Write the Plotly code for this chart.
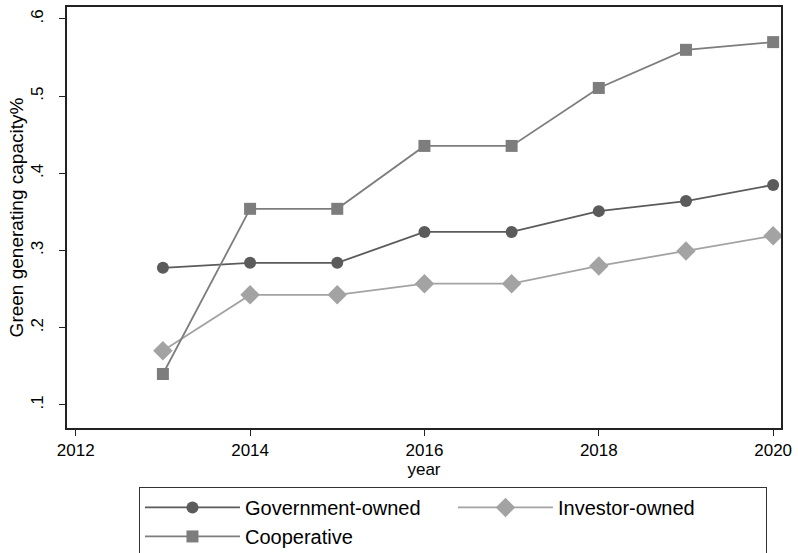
import plotly.graph_objects as go

years = [2013, 2014, 2015, 2016, 2017, 2018, 2019, 2020]
government = [0.2775, 0.284, 0.284, 0.324, 0.324, 0.351, 0.364, 0.385]
investor = [0.170, 0.2425, 0.2425, 0.257, 0.257, 0.280, 0.2995, 0.319]
cooperative = [0.140, 0.354, 0.354, 0.4355, 0.4355, 0.5106, 0.560, 0.570]

y_tickvals = [0.1, 0.2, 0.3, 0.4, 0.5, 0.6]
y_ticktext = [".1", ".2", ".3", ".4", ".5", ".6"]
x_tickvals = [2012, 2014, 2016, 2018, 2020]

fig = go.Figure()
fig.add_trace(go.Scatter(x=years, y=government, name="Government-owned", mode="lines+markers",
                         line=dict(color="#5b5b5b", width=1.8),
                         marker=dict(symbol="circle", size=12, color="#5b5b5b")))
fig.add_trace(go.Scatter(x=years, y=investor, name="Investor-owned", mode="lines+markers",
                         line=dict(color="#a3a3a3", width=1.8),
                         marker=dict(symbol="diamond", size=15, color="#a3a3a3")))
fig.add_trace(go.Scatter(x=years, y=cooperative, name="Cooperative", mode="lines+markers",
                         line=dict(color="#7d7d7d", width=1.8),
                         marker=dict(symbol="square", size=12, color="#7d7d7d")))

fig.update_layout(
    width=798, height=553,
    margin=dict(l=67, r=17, t=7, b=125, autoexpand=False),
    paper_bgcolor="white", plot_bgcolor="white",
    font=dict(family="Liberation Sans, Arial, sans-serif", size=17, color="black"),
    legend=dict(orientation="h", x=0.1008, xanchor="left", y=-0.14, yanchor="top",
                bordercolor="#333333", borderwidth=1, entrywidth=203, itemwidth=95,
                font=dict(size=20), traceorder="normal"),
    showlegend=True,
)
fig.update_xaxes(range=[2011.90, 2020.09], tickvals=x_tickvals, showgrid=False, zeroline=False,
                 showline=True, linecolor="#222222", linewidth=1.5, mirror=True,
                 ticks="outside", ticklen=6, tickcolor="#222222", automargin=False,
                 title=dict(text="year", standoff=0, font=dict(size=17)))
fig.update_yaxes(range=[0.070, 0.6155], tickvals=y_tickvals, ticktext=y_ticktext, tickangle=-90,
                 showgrid=False, zeroline=False, ticklabelstandoff=9,
                 showline=True, linecolor="#222222", linewidth=1.5, mirror=True,
                 ticks="outside", ticklen=6, tickcolor="#222222", automargin=False,
                 title=dict(text="Green generating capacity%", standoff=0, font=dict(size=19)))

fig.write_html("out.html", config={"displayModeBar": False},
               post_script="document.body.style.margin='0';")
